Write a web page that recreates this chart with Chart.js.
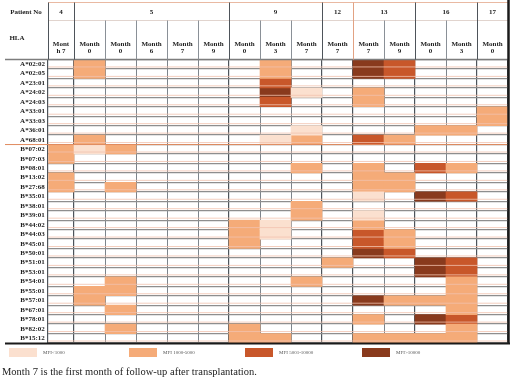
<!DOCTYPE html>
<html><head><meta charset="utf-8">
<script src="https://cdn.jsdelivr.net/npm/chart.js@4"></script>
<style>
html,body{margin:0;padding:0;background:#fff;width:514px;height:382px;overflow:hidden}
#wrap{position:absolute;left:0;top:0;width:514px;height:382px}
#cap{position:absolute;left:2px;top:366px;font:10.5px "Liberation Serif",serif;color:#222;white-space:nowrap}
</style></head><body>
<div id="wrap"><canvas id="c"></canvas></div>
<div id="cap">Month 7 is the first month of follow-up after transplantation.</div>
<script>
// ---------- data ----------
const hlaLabels = ['A*02:02','A*02:05','A*23:01','A*24:02','A*24:03','A*33:01','A*33:03','A*36:01','A*68:01',
  'B*07:02','B*07:03','B*08:01','B*13:02','B*27:68','B*35:01','B*38:01','B*39:01','B*44:02','B*44:03','B*45:01',
  'B*50:01','B*51:01','B*53:01','B*54:01','B*55:01','B*57:01','B*67:01','B*78:01','B*82:02','B*15:12'];
const patients = ['4','5','9','12','13','16','17'];
const patientColumnCounts = [1,5,3,1,2,2,1];
const monthLabels = [['Mont','h 7'],['Month','0'],['Month','0'],['Month','6'],['Month','7'],['Month','9'],
  ['Month','0'],['Month','3'],['Month','7'],['Month','7'],['Month','7'],['Month','9'],['Month','0'],['Month','3'],['Month','0']];
const levelNames = ['MFI<1000','MFI 1000-5000','MFI 5001-10000','MFI>10000'];
// cells: [HLA, column index]
const lightCells = [['A*24:02',8],['A*36:01',8],['A*68:01',7],['B*07:02',1],['B*35:01',10],['B*39:01',10],
  ['B*44:02',7],['B*44:03',7]];
const mediumCells = [['A*02:02',1],['A*02:02',7],['A*02:05',1],['A*02:05',7],['A*24:02',10],['A*24:03',10],
  ['A*33:01',14],['A*33:03',14],['A*36:01',12],['A*36:01',13],['A*68:01',1],['A*68:01',8],['A*68:01',11],
  ['B*07:02',0],['B*07:02',2],['B*07:03',0],['B*08:01',8],['B*08:01',10],['B*08:01',13],
  ['B*13:02',0],['B*13:02',10],['B*13:02',11],['B*27:68',0],['B*27:68',2],['B*27:68',10],['B*27:68',11],
  ['B*38:01',8],['B*39:01',8],['B*44:02',6],['B*44:02',10],['B*44:03',6],['B*44:03',11],['B*45:01',6],['B*45:01',11],
  ['B*51:01',9],['B*54:01',2],['B*54:01',8],['B*54:01',13],['B*55:01',1],['B*55:01',2],['B*55:01',13],
  ['B*57:01',1],['B*57:01',11],['B*57:01',12],['B*57:01',13],['B*67:01',2],['B*67:01',13],['B*78:01',10],
  ['B*82:02',2],['B*82:02',6],['B*82:02',13],
  ['B*15:12',6],['B*15:12',7],['B*15:12',10],['B*15:12',11],['B*15:12',12],['B*15:12',13]];
const darkCells = [['A*02:02',11],['A*02:05',11],['A*23:01',7],['A*24:03',7],['A*68:01',10],['B*08:01',12],
  ['B*35:01',13],['B*44:03',10],['B*45:01',10],['B*50:01',11],['B*51:01',13],['B*53:01',13],['B*78:01',13]];
const brownCells = [['A*02:02',10],['A*02:05',10],['A*24:02',7],['B*35:01',12],['B*50:01',10],['B*51:01',12],
  ['B*53:01',12],['B*57:01',10],['B*78:01',12]];

// ---------- layout / style ----------
const levelColors = ['#FBE0CF','#F5AB78','#C8572A','#893A1D'];
const colWidths = [0.84,1,1,1,1,1,1,1,1,1,1,1,1,1,1];
const edges = [0]; colWidths.forEach(w => edges.push(edges[edges.length-1] + w));
const centers = colWidths.map((w,i) => edges[i] + w/2);
const total = edges[edges.length-1];
const groupEdges = [0]; patientColumnCounts.forEach(n => groupEdges.push(groupEdges[groupEdges.length-1] + n));
const FONT = '"Liberation Serif", serif';

function toBars(cells){ return cells.map(([h,c]) => ({y:h, x:[edges[c], edges[c+1]]})); }

const cellSets = [lightCells, mediumCells, darkCells, brownCells];

const tablePlugin = {
  id:'table',
  afterDraw(chart){
    const {ctx, chartArea:ca, scales:{x, y}} = chart;
    const yTop = 2.5, yMid = 20.5, yHead = ca.top;
    ctx.save();
    // pink secondary row lines
    ctx.strokeStyle = '#F1C2AD'; ctx.lineWidth = 0.8;
    for (let i=0;i<hlaLabels.length;i++){
      const yy = y.getPixelForValue(i) + (y.getPixelForValue(1)-y.getPixelForValue(0))/2 - 2;
      ctx.beginPath(); ctx.moveTo(ca.left, yy); ctx.lineTo(ca.right, yy); ctx.stroke();
    }
    // header horizontal lines
    ctx.strokeStyle = '#E9B9A2'; ctx.lineWidth = 1;
    ctx.beginPath(); ctx.moveTo(ca.left, yTop); ctx.lineTo(ca.right, yTop); ctx.stroke();
    ctx.strokeStyle = '#D9C9C2'; ctx.lineWidth = 0.8;
    ctx.beginPath(); ctx.moveTo(ca.left, yMid); ctx.lineTo(ca.right, yMid); ctx.stroke();
    ctx.strokeStyle = '#7d7d7d'; ctx.lineWidth = 1.4;
    ctx.beginPath(); ctx.moveTo(5, yHead); ctx.lineTo(ca.right, yHead); ctx.stroke();
    // header vertical lines
    ctx.lineWidth = 1;
    edges.forEach((e,i) => {
      const px = Math.round(x.getPixelForValue(e)) + 0.5;
      const isGroup = groupEdges.includes(i);
      ctx.strokeStyle = i === 10 ? '#E2A283' : (isGroup ? '#4e545a' : '#8a9097');
      ctx.beginPath(); ctx.moveTo(px, isGroup ? yTop : yMid); ctx.lineTo(px, yHead); ctx.stroke();
    });
    // A / B separator
    const sepY = (y.getPixelForValue(8) + y.getPixelForValue(9))/2;
    ctx.strokeStyle = '#E08A5E'; ctx.lineWidth = 1;
    ctx.beginPath(); ctx.moveTo(5, sepY); ctx.lineTo(ca.right, sepY); ctx.stroke();
    // bottom & right borders
    ctx.strokeStyle = '#1a1a1a'; ctx.lineWidth = 2;
    ctx.beginPath(); ctx.moveTo(5, ca.bottom+0.5); ctx.lineTo(ca.right+2, ca.bottom+0.5); ctx.stroke();
    ctx.lineWidth = 2.5;
    ctx.beginPath(); ctx.moveTo(ca.right+0.5, 0); ctx.lineTo(ca.right+0.5, ca.bottom+1); ctx.stroke();
    // header texts
    ctx.fillStyle = '#222'; ctx.font = 'bold 7px ' + FONT; ctx.textBaseline = 'middle'; ctx.textAlign = 'center';
    ctx.fillText('Patient No', 26, 12);
    ctx.fillText('HLA', 17, 38);
    patients.forEach((p,i) => {
      const cx = (x.getPixelForValue(edges[groupEdges[i]]) + x.getPixelForValue(edges[groupEdges[i+1]]))/2;
      ctx.fillText(p, cx, 12);
    });
    // legend
    const lx = [9, 129, 245, 362];
    ctx.font = '5px ' + FONT; ctx.textAlign = 'left';
    levelNames.forEach((n,i) => {
      ctx.fillStyle = levelColors[i]; ctx.fillRect(lx[i], 348, 28, 9);
      ctx.fillStyle = '#555'; ctx.fillText(n, lx[i]+34, 352.5);
    });
    ctx.restore();
  }
};

new Chart(document.getElementById('c'), {
  type:'bar',
  data:{
    labels: hlaLabels,
    datasets: cellSets.map((cells,i) => ({
      label: levelNames[i], data: toBars(cells), backgroundColor: levelColors[i],
      borderWidth:0, barPercentage:1, categoryPercentage:1, grouped:false
    }))
  },
  options:{
    indexAxis:'y', responsive:true, maintainAspectRatio:false, animation:false,
    layout:{padding:{left:0, top:0, right:6, bottom:39}},
    plugins:{legend:{display:false}, tooltip:{enabled:false}},
    scales:{
      x:{type:'linear', position:'bottom', min:0, max:total, z:1,
         afterBuildTicks: s => { s.ticks = edges.map(v => ({value:v})); },
         afterFit: s => { s.height = 0; },
         ticks:{display:false}, border:{display:false},
         grid:{drawTicks:false,
           color: c => groupEdges.includes(c.index) ? '#4e545a' : '#7d848b',
           lineWidth: c => groupEdges.includes(c.index) ? 1.2 : 1}},
      x2:{type:'linear', position:'top', min:0, max:total,
         afterBuildTicks: s => { s.ticks = centers.map(v => ({value:v})); },
         afterFit: s => { s.height = 59.5; },
         ticks:{autoSkip:false, maxRotation:0, padding:5, color:'#222',
           font:{family:FONT, size:7, weight:'bold', lineHeight:1.0},
           callback: (v,i) => monthLabels[i]},
         grid:{display:false, drawTicks:false}, border:{display:false}},
      y:{type:'category', offset:true, z:1,
         afterFit: s => { s.width = 48; },
         ticks:{crossAlign:'center', color:'#222', autoSkip:false,
           font:{family:FONT, size:7, weight:'bold'}},
         border:{display:false},
         grid:{offset:true, drawTicks:false, color:'#8e8e8e', lineWidth:1.3}}
    }
  },
  plugins:[tablePlugin]
});
</script>
</body></html>
